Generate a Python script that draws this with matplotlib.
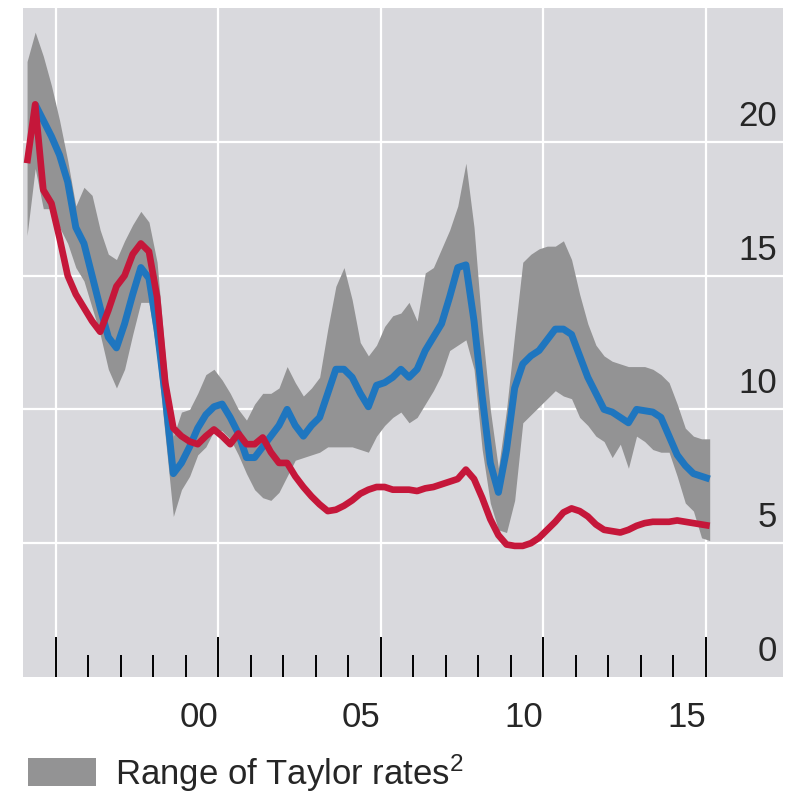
import matplotlib
matplotlib.use("Agg")
import matplotlib.pyplot as plt
import numpy as np
import pandas as pd

plt.rcParams['font.family'] = ['Liberation Sans', 'DejaVu Sans']
plt.rcParams['mathtext.fontset'] = 'custom'
plt.rcParams['mathtext.rm'] = 'Liberation Sans'
plt.rcParams['mathtext.default'] = 'regular'

# quarterly observations, 1994Q1 - 2015Q1
quarters = pd.period_range('1994Q1', '2015Q1', freq='Q')

policy_rate = [19.2, 21.4, 18.2, 17.7, 16.4, 15.0, 14.3, 13.8, 13.3, 12.9,
               13.7, 14.6, 15.0, 15.8, 16.2, 15.9, 14.2, 11.0, 9.3, 9.0,
               8.8, 8.7, 9.0, 9.25, 9.0, 8.7, 9.1, 8.7, 8.7, 8.95,
               8.4, 8.0, 8.0, 7.5, 7.1, 6.75, 6.45, 6.2, 6.25, 6.4,
               6.6, 6.85, 7.0, 7.1, 7.1, 7.0, 7.0, 7.0, 6.95, 7.05,
               7.1, 7.2, 7.3, 7.4, 7.75, 7.4, 6.7, 5.9, 5.3, 4.95,
               4.9, 4.9, 5.0, 5.2, 5.5, 5.8, 6.15, 6.3, 6.2, 6.0,
               5.7, 5.5, 5.45, 5.4, 5.5, 5.65, 5.75, 5.8, 5.8, 5.8,
               5.85, 5.8, 5.75, 5.7, 5.65]

taylor_mean = [np.nan, 21.4, 20.8, 20.2, 19.5, 18.5, 16.8, 16.2, 15.0, 13.8,
               12.7, 12.3, 13.2, 14.3, 15.3, 14.9, 13.0, 10.5, 7.6, 8.0,
               8.6, 9.3, 9.8, 10.1, 10.2, 9.7, 9.1, 8.2, 8.2, 8.6,
               9.0, 9.4, 10.0, 9.4, 9.0, 9.4, 9.7, 10.6, 11.5, 11.5,
               11.2, 10.6, 10.1, 10.9, 11.0, 11.2, 11.5, 11.2, 11.5, 12.2,
               12.7, 13.2, 14.2, 15.3, 15.4, 13.3, 10.5, 8.0, 6.9, 8.5,
               10.8, 11.7, 12.0, 12.2, 12.6, 13.0, 13.0, 12.8, 12.0, 11.2,
               10.6, 10.0, 9.9, 9.7, 9.5, 10.0, 9.95, 9.9, 9.7, 9.0,
               8.3, 7.9, 7.6, 7.5, 7.4]

taylor_high = [23.0, 24.1, 23.2, 22.1, 20.8, 19.3, 17.6, 18.3, 18.0, 16.7,
               15.8, 15.6, 16.3, 16.9, 17.4, 17.0, 15.5, 12.0, 9.0, 9.9,
               10.0, 10.6, 11.3, 11.5, 11.1, 10.6, 10.0, 9.6, 10.2, 10.6,
               10.6, 10.8, 11.6, 11.0, 10.5, 10.8, 11.2, 13.0, 14.6, 15.3,
               14.1, 12.5, 12.0, 12.4, 13.1, 13.5, 13.6, 14.0, 13.3, 15.1,
               15.3, 16.0, 16.7, 17.6, 19.2, 16.8, 13.0, 10.0, 7.8, 10.0,
               12.8, 15.5, 15.8, 16.0, 16.1, 16.1, 16.3, 15.6, 14.3, 13.2,
               12.4, 12.0, 11.8, 11.7, 11.6, 11.6, 11.6, 11.5, 11.3, 11.0,
               10.2, 9.3, 9.0, 8.9, 8.9]

taylor_low = [16.5, 19.0, 17.5, 17.5, 16.8, 16.2, 15.3, 14.8, 13.8, 12.8,
              11.5, 10.8, 11.5, 12.8, 14.0, 14.0, 12.0, 9.0, 6.0, 7.0,
              7.5, 8.3, 8.6, 9.2, 9.2, 8.9, 8.3, 7.6, 7.0, 6.7,
              6.6, 6.9, 7.5, 8.1, 8.2, 8.3, 8.4, 8.6, 8.6, 8.6,
              8.6, 8.5, 8.4, 9.0, 9.4, 9.7, 9.9, 9.5, 9.7, 10.2,
              10.7, 11.3, 12.2, 12.4, 12.6, 11.5, 8.5, 6.5, 5.5, 5.4,
              6.6, 9.5, 9.8, 10.1, 10.4, 10.7, 10.5, 10.4, 9.7, 9.4,
              9.0, 8.8, 8.2, 8.7, 7.8, 9.0, 8.8, 8.5, 8.4, 8.4,
              7.5, 6.5, 6.2, 5.2, 5.1]

major_years = [1995, 2000, 2005, 2010, 2015]
major_labels = ['', '00', '05', '10', '15']
y_ticks = [0, 5, 10, 15, 20]

t = quarters.year + (quarters.quarter - 0.5) / 4.0

bg = '#d9d9dd'
band_color = '#939394'
blue = '#1f76bf'
red = '#c5173a'
txt = '#262626'

fig = plt.figure(figsize=(7.85, 7.93), dpi=100)
ax = fig.add_axes([23 / 785, 1 - 677 / 793, 760 / 785, 669 / 793])
ax.set_facecolor(bg)

band = ax.fill_between(t, taylor_low, taylor_high, color=band_color, lw=0,
                       label='Range of Taylor rates$^2$', zorder=2)
ax.plot(t, taylor_mean, color=blue, lw=5.0, zorder=3, solid_joinstyle='round',
        solid_capstyle='butt')
ax.plot(t, policy_rate, color=red, lw=4.8, zorder=4, solid_joinstyle='round',
        solid_capstyle='butt')

ax.set_xlim(1994.0, 2017.38)
ax.set_ylim(0, 25)

# white grid
for v in y_ticks[1:]:
    ax.axhline(v, color='white', lw=1.6, zorder=1)
for yr in major_years:
    ax.axvline(yr, color='white', lw=1.6, zorder=1)

for s in ax.spines.values():
    s.set_visible(False)

# x ticks drawn inward from the bottom
ax.set_xticks(major_years)
ax.set_xticklabels(major_labels, fontsize=25, color=txt, ha='right')
ax.set_xticks([y for y in range(1996, 2015) if y % 5 != 0], minor=True)
ax.tick_params(axis='x', which='major', direction='in', length=29, width=1.4,
               color='black', pad=17)
ax.tick_params(axis='x', which='minor', direction='in', length=16, width=1.4,
               color='black')

# y labels inside the plot on the right, above gridlines
ax.set_yticks([])
for v in y_ticks:
    ax.text(0.992, v + 0.95, str(v), transform=ax.get_yaxis_transform(),
            ha='right', va='center', fontsize=25, color=txt)

leg = fig.legend(handles=[band], loc='upper left', bbox_to_anchor=(28 / 785, 1 - 752 / 793),
                 frameon=False, fontsize=25, handlelength=1.95, handleheight=0.85,
                 handletextpad=0.55, borderpad=0, borderaxespad=0)
for tx in leg.get_texts():
    tx.set_color(txt)

plt.savefig('out.png', dpi=100, facecolor='white')
